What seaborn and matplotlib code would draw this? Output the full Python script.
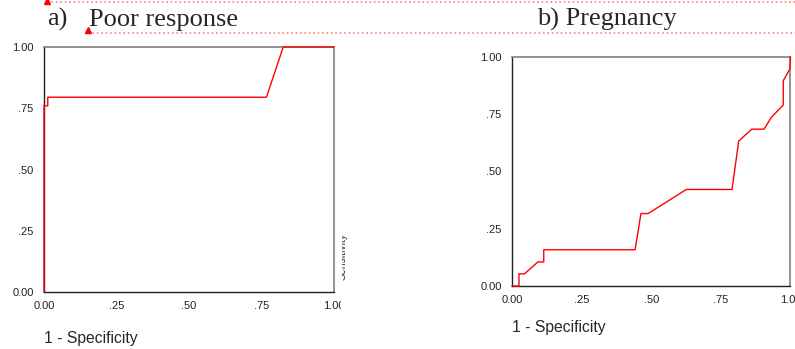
import matplotlib
matplotlib.use('Agg')
import matplotlib.pyplot as plt
import seaborn as sns
from matplotlib.transforms import Bbox

# ROC data
poor_fpr = [0.0, 0.0, 0.013, 0.013, 0.767, 0.825, 1.0]
poor_tpr = [0.0, 0.76, 0.76, 0.795, 0.795, 1.0, 1.0]

preg_fpr = [0.0, 0.025, 0.025, 0.045, 0.093, 0.114, 0.114, 0.442, 0.463, 0.489,
            0.626, 0.790, 0.814, 0.861, 0.905, 0.932, 0.974, 0.974, 0.998, 1.0]
preg_tpr = [0.0, 0.0, 0.053, 0.053, 0.105, 0.105, 0.158, 0.158, 0.316, 0.316,
            0.421, 0.421, 0.632, 0.684, 0.684, 0.737, 0.789, 0.895, 0.947, 1.0]

tick_vals = [0.0, 0.25, 0.5, 0.75, 1.0]
tick_labels = ['0.00', '.25', '.50', '.75', '1.00']

W, H = 795, 349


def px_axes(x0, x1, ytop, ybot):
    return [x0 / W, (H - ybot) / H, (x1 - x0) / W, (ybot - ytop) / H]


def style_axes(ax, ypad, xpad):
    ax.set_xlim(0, 1)
    ax.set_ylim(0, 1)
    ax.set_xticks(tick_vals)
    ax.set_yticks(tick_vals)
    ax.set_xticklabels(tick_labels)
    ax.set_yticklabels(tick_labels)
    ax.tick_params(axis='both', direction='out', length=2.5, width=0.8,
                   colors='#333333', labelsize=8, labelcolor='#222222')
    ax.tick_params(axis='y', pad=ypad)
    ax.tick_params(axis='x', pad=xpad)
    for side in ['left', 'bottom']:
        ax.spines[side].set_color('#222222')
        ax.spines[side].set_linewidth(1.0)
    for side in ['top', 'right']:
        ax.spines[side].set_color('#808080')
        ax.spines[side].set_linewidth(1.2)
    ax.set_ylabel('')
    for line in ax.lines:
        line.set_clip_on(False)
        line.set_zorder(3)


sns.set_style('white')
plt.rcParams['font.family'] = ['Liberation Sans', 'DejaVu Sans']

fig = plt.figure(figsize=(7.95, 3.49), dpi=100)

# a) Poor response
ax1 = fig.add_axes(px_axes(44, 334, 47, 292))
sns.lineplot(x=poor_fpr, y=poor_tpr, estimator=None, sort=False, color='#ff0000',
             linewidth=1.0, ax=ax1)
style_axes(ax1, ypad=5, xpad=4)
ax1.set_xlabel('1 - Specificity', fontsize=11.3, ha='left', va='baseline')
ax1.xaxis.set_label_coords(0, -0.21)
lbl = ax1.get_xticklabels()[-1]
lbl.set_clip_box(Bbox.from_extents(0, 0, 341, H))
lbl.set_clip_on(True)

# b) Pregnancy
ax2 = fig.add_axes(px_axes(512, 790.5, 56.7, 286))
sns.lineplot(x=preg_fpr, y=preg_tpr, estimator=None, sort=False, color='#ff0000',
             linewidth=1.0, ax=ax2)
style_axes(ax2, ypad=5, xpad=4)
ax2.set_xlabel('1 - Specificity', fontsize=11.3, ha='left', va='baseline')
ax2.xaxis.set_label_coords(0, -0.2006)

# clipped "Sensitivity" fragment beside the left plot
sens = fig.text(348 / W, (H - 256) / H, 'Sensitivity', rotation=90, fontsize=7.5,
                ha='right', va='center', color='#333333')
sens.set_clip_box(Bbox.from_extents(342, 0, 348, H))
sens.set_clip_on(True)

# titles
serif = ['Liberation Serif', 'DejaVu Serif']
fig.text(47 / W, (H - 26) / H, 'a)', family=serif, fontsize=19, va='baseline')
fig.text(89 / W, (H - 26) / H, 'Poor response', family=serif, fontsize=19, va='baseline')
fig.text(607 / W, (H - 26) / H, 'b) Pregnancy', family=serif, fontsize=19,
         va='baseline', ha='center')

# red dotted guide lines and markers from the source document
fig.add_artist(plt.Line2D([47 / W, 1], [(H - 1.5) / H] * 2, color='#ff8080',
                          linestyle=':', linewidth=1.2))
fig.add_artist(plt.Line2D([88 / W, 1], [(H - 33) / H] * 2, color='#ff8080',
                          linestyle=':', linewidth=1.2))
fig.add_artist(plt.Line2D([47 / W], [(H - 1) / H], marker='^', color='#ff0000',
                          markersize=5, linestyle='none'))
fig.add_artist(plt.Line2D([88 / W], [(H - 30) / H], marker='^', color='#ff0000',
                          markersize=5, linestyle='none'))

plt.savefig('out.png', dpi=100)
plt.close()
